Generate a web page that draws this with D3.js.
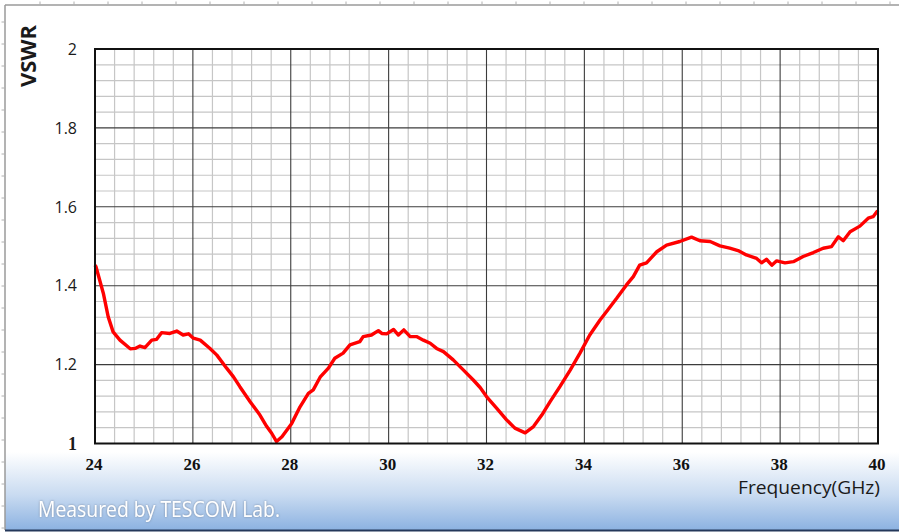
<!DOCTYPE html>
<html>
<head>
<meta charset="utf-8">
<script src="https://cdn.jsdelivr.net/npm/d3@7"></script>
<style>
  body { margin: 0; background: #fff; }
  svg { display: block; }
</style>
</head>
<body>
<svg id="chart"></svg>
<script>
// values
const freq = [24.00,24.02,24.17,24.27,24.37,24.51,24.72,24.82,24.92,25.02,25.16,25.26,25.36,25.53,25.67,25.80,25.91,26.01,26.15,26.35,26.49,26.69,26.83,26.96,27.17,27.37,27.51,27.61,27.71,27.82,28.02,28.19,28.36,28.46,28.60,28.77,28.90,29.07,29.21,29.41,29.48,29.65,29.79,29.86,29.96,30.10,30.20,30.31,30.44,30.57,30.71,30.85,30.98,31.12,31.32,31.53,31.73,31.87,32.00,32.21,32.41,32.58,32.79,32.96,33.13,33.30,33.50,33.71,33.91,34.11,34.32,34.45,34.66,34.86,35.00,35.13,35.27,35.48,35.68,35.95,36.19,36.36,36.57,36.77,36.97,37.14,37.31,37.52,37.62,37.72,37.83,37.93,38.10,38.27,38.47,38.68,38.88,39.05,39.19,39.29,39.43,39.63,39.80,39.90,39.98,40.00];
const vswr = [1.452,1.448,1.381,1.321,1.283,1.262,1.240,1.241,1.247,1.243,1.262,1.264,1.281,1.279,1.285,1.275,1.278,1.267,1.262,1.241,1.224,1.191,1.169,1.144,1.106,1.072,1.043,1.026,1.005,1.017,1.051,1.093,1.127,1.136,1.168,1.191,1.216,1.229,1.250,1.258,1.271,1.275,1.286,1.279,1.278,1.289,1.275,1.288,1.271,1.271,1.262,1.254,1.241,1.233,1.212,1.186,1.161,1.142,1.119,1.089,1.060,1.039,1.027,1.043,1.072,1.106,1.144,1.186,1.229,1.275,1.313,1.334,1.368,1.402,1.423,1.452,1.458,1.486,1.503,1.512,1.523,1.514,1.512,1.501,1.495,1.489,1.478,1.469,1.458,1.467,1.452,1.463,1.458,1.461,1.474,1.484,1.495,1.499,1.524,1.514,1.537,1.551,1.571,1.575,1.588,1.585];

const xTicks = [24,26,28,30,32,34,36,38,40];
const yTicks = [1,1.2,1.4,1.6,1.8,2];
const xLabel = "Frequency(GHz)";
const yLabel = "VSWR";
const note = "Measured by TESCOM Lab.";

const W = 899, H = 532;
const pLeft = 95, pRight = 878, pTop = 49, pBottom = 443.5;

const svg = d3.select('#chart').attr('width', W).attr('height', H);

const x = d3.scaleLinear().domain([24, 40]).range([pLeft, pRight]);
const y = d3.scaleLinear().domain([1, 2]).range([pBottom, pTop]);

// background gradient at the bottom of the frame
const defs = svg.append('defs');
const grad = defs.append('linearGradient')
    .attr('id', 'bg').attr('x1', 0).attr('y1', 0).attr('x2', 0).attr('y2', 1);
grad.append('stop').attr('offset', '0%').attr('stop-color', '#ffffff');
grad.append('stop').attr('offset', '55%').attr('stop-color', '#c9dbf1');
grad.append('stop').attr('offset', '100%').attr('stop-color', '#8cb2e1');

svg.append('rect').attr('x', 5).attr('y', 452).attr('width', W - 5).attr('height', 78)
    .attr('fill', 'url(#bg)');

// outer frame with little ruler marks
svg.append('line').attr('x1', 5).attr('x2', W).attr('y1', 5).attr('y2', 5)
    .attr('stroke', '#9a9a9a').attr('stroke-width', 1.5);
svg.append('line').attr('x1', 5).attr('x2', 5).attr('y1', 5).attr('y2', 530)
    .attr('stroke', '#9a9a9a').attr('stroke-width', 1.5);
svg.append('line').attr('x1', 5).attr('x2', W).attr('y1', 530.5).attr('y2', 530.5)
    .attr('stroke', '#24385a').attr('stroke-width', 2);
svg.append('g').selectAll('line').data(d3.range(40, W, 34)).join('line')
    .attr('x1', d => d).attr('x2', d => d).attr('y1', 1.5).attr('y2', 5)
    .attr('stroke', '#b0b0b0');
svg.append('g').selectAll('line').data(d3.range(22, 530, 22)).join('line')
    .attr('y1', d => d).attr('y2', d => d).attr('x1', 1.5).attr('x2', 5)
    .attr('stroke', '#b0b0b0');

// minor grid
const xMinor = d3.range(24, 40.001, 0.4).filter(v => Math.abs(v / 2 - Math.round(v / 2)) > 0.01);
const yMinor = d3.range(1, 2.001, 0.04).filter(v => Math.abs(v / 0.2 - Math.round(v / 0.2)) > 0.01);

const grid = svg.append('g');
grid.selectAll('.vx').data(xMinor).join('line').attr('class', 'vx')
    .attr('x1', d => x(d)).attr('x2', d => x(d)).attr('y1', pTop).attr('y2', pBottom)
    .attr('stroke', '#c6c6c6').attr('stroke-width', 1.2);
grid.selectAll('.hy').data(yMinor).join('line').attr('class', 'hy')
    .attr('y1', d => y(d)).attr('y2', d => y(d)).attr('x1', pLeft).attr('x2', pRight)
    .attr('stroke', '#c6c6c6').attr('stroke-width', 1.2);

// major grid
grid.selectAll('.mx').data(xTicks).join('line').attr('class', 'mx')
    .attr('x1', d => x(d)).attr('x2', d => x(d)).attr('y1', pTop).attr('y2', pBottom)
    .attr('stroke', '#3c3c3c').attr('stroke-width', 1.1);
grid.selectAll('.my').data(yTicks).join('line').attr('class', 'my')
    .attr('y1', d => y(d)).attr('y2', d => y(d)).attr('x1', pLeft).attr('x2', pRight)
    .attr('stroke', '#3c3c3c').attr('stroke-width', 1.1);

// the trace
const pts = freq.map((f, i) => [f, vswr[i]]);
svg.append('path').datum(pts)
    .attr('d', d3.line().x(d => x(d[0])).y(d => y(d[1])))
    .attr('fill', 'none').attr('stroke', '#ff0000').attr('stroke-width', 3.4)
    .attr('stroke-linejoin', 'round');

// plot border
svg.append('rect').attr('x', pLeft).attr('y', pTop)
    .attr('width', pRight - pLeft).attr('height', pBottom - pTop)
    .attr('fill', 'none').attr('stroke', '#111').attr('stroke-width', 2);

// axes labels
svg.append('g').selectAll('text').data(yTicks).join('text')
    .attr('x', 77).attr('y', d => y(d)).attr('dy', '0.36em')
    .attr('text-anchor', 'end')
    .attr('font-family', d => d === 1 ? 'Liberation Serif' : 'Open Sans')
    .attr('font-weight', d => d === 1 ? 'bold' : 'normal')
    .attr('font-size', d => d === 1 ? 18 : 16)
    .attr('fill', '#1a1a1a')
    .text(d => d3.format('~g')(d));

svg.append('g').selectAll('text').data(xTicks).join('text')
    .attr('x', d => x(d) - 1).attr('y', 470)
    .attr('text-anchor', 'middle')
    .attr('font-family', 'Liberation Serif').attr('font-weight', 'bold')
    .attr('font-size', 17).attr('fill', '#111')
    .text(d => d);

svg.append('text')
    .attr('transform', 'translate(36,56) rotate(-90)')
    .attr('text-anchor', 'middle')
    .attr('font-family', 'Open Sans').attr('font-weight', 'bold')
    .attr('font-size', 21).attr('fill', '#1a1a1a')
    .attr('textLength', 62).attr('lengthAdjust', 'spacingAndGlyphs')
    .text(yLabel);

svg.append('text')
    .attr('x', 880).attr('y', 494).attr('text-anchor', 'end')
    .attr('font-family', 'Open Sans').attr('font-size', 18)
    .attr('fill', '#1a1a1a')
    .attr('textLength', 142).attr('lengthAdjust', 'spacingAndGlyphs')
    .text(xLabel);

defs.append('filter').attr('id', 'glow')
    .append('feDropShadow').attr('dx', 0).attr('dy', 0).attr('stdDeviation', 1.2)
    .attr('flood-color', '#6d7f99').attr('flood-opacity', 0.9);

svg.append('text')
    .attr('x', 38).attr('y', 517)
    .attr('font-family', 'Open Sans').attr('font-size', 21)
    .attr('fill', '#ffffff').attr('filter', 'url(#glow)')
    .attr('textLength', 242).attr('lengthAdjust', 'spacingAndGlyphs')
    .text(note);
</script>
</body>
</html>
